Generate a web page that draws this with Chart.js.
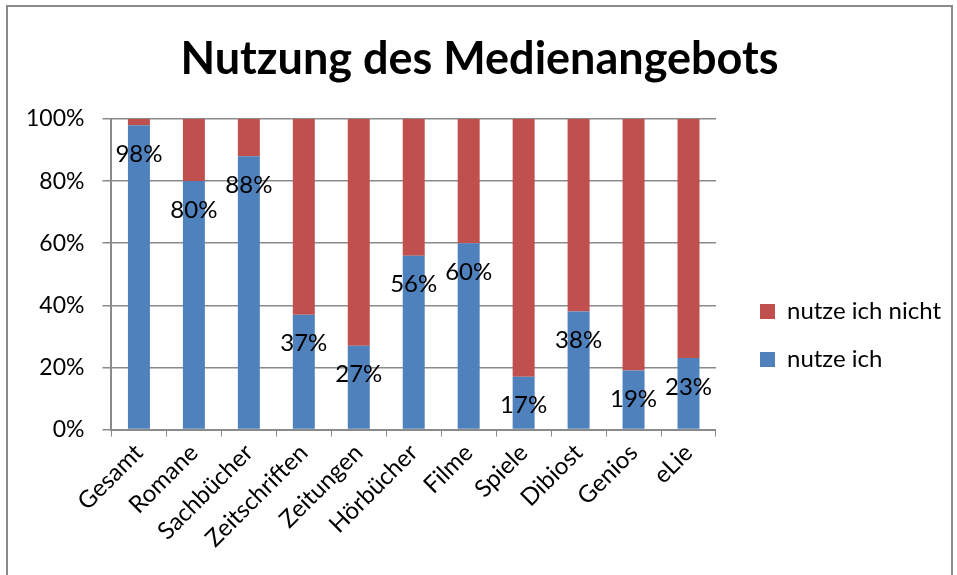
<!DOCTYPE html>
<html>
<head>
<meta charset="utf-8">
<script src="https://cdn.jsdelivr.net/npm/chart.js@4"></script>
<style>
  html, body { margin: 0; padding: 0; background: #fff; overflow: hidden; }
  #frame { position: absolute; left: 6px; top: 5px; width: 943px; height: 620px; border: 2px solid #8a8a8a; }
  #wrap { position: absolute; left: 0; top: 0; width: 957px; height: 575px; }
</style>
</head>
<body>
<div id="frame"></div>
<div id="wrap"><canvas id="myChart" width="957" height="575"></canvas></div>
<script>
'use strict';

let categories = ['Gesamt', 'Romane', 'Sachbücher', 'Zeitschriften', 'Zeitungen', 'Hörbücher', 'Filme', 'Spiele', 'Dibiost', 'Genios', 'eLie'];
let nutzeIch = [98, 80, 88, 37, 27, 56, 60, 17, 38, 19, 23];
let nutzeIchNicht = [2, 20, 12, 63, 73, 44, 40, 83, 62, 81, 77];
let yTicks = [0, 20, 40, 60, 80, 100];

let fontName = 'Lato';

// percent labels under the top of the blue bars
let barLabels = {
  id: 'barLabels',
  afterDatasetsDraw(chart) {
    let ctx = chart.ctx;
    let meta = chart.getDatasetMeta(0);
    ctx.save();
    ctx.font = '24px ' + fontName;
    ctx.fillStyle = '#000';
    ctx.textAlign = 'center';
    ctx.textBaseline = 'middle';
    meta.data.forEach(function(bar, i) {
      ctx.fillText(nutzeIch[i] + '%', bar.x, bar.y + 29);
    });
    ctx.restore();
  }
};

let ctx = document.getElementById('myChart').getContext('2d');
let myChart = new Chart(ctx, {
  type: 'bar',
  data: {
    labels: categories,
    datasets: [{
      label: 'nutze ich',
      data: nutzeIch,
      backgroundColor: '#4F81BD',
      barPercentage: 0.4,
      categoryPercentage: 1
    }, {
      label: 'nutze ich nicht',
      data: nutzeIchNicht,
      backgroundColor: '#C0504D',
      barPercentage: 0.4,
      categoryPercentage: 1
    }]
  },
  options: {
    responsive: false,
    animation: false,
    layout: {
      padding: { left: 8, right: 6, top: 0, bottom: 20 }
    },
    plugins: {
      title: {
        display: true,
        text: 'Nutzung des Medienangebots',
        color: '#000',
        font: { family: fontName, size: 45, weight: 'bold' },
        padding: { top: 32, bottom: 33 }
      },
      legend: {
        position: 'right',
        reverse: true,
        maxWidth: 300,
        title: {
          display: true,
          text: ' ',
          font: { size: 10 },
          padding: { top: 104, bottom: 0 }
        },
        labels: {
          color: '#000',
          font: { family: fontName, size: 24 },
          boxWidth: 15,
          boxHeight: 15,
          padding: 24
        }
      },
      tooltip: { enabled: false }
    },
    scales: {
      x: {
        stacked: true,
        grid: {
          display: true,
          drawOnChartArea: false,
          color: '#8a8a8a',
          tickLength: 7
        },
        border: { color: '#8a8a8a', width: 2 },
        ticks: {
          color: '#000',
          font: { family: fontName, size: 24 },
          maxRotation: 45,
          minRotation: 45,
          padding: 2
        }
      },
      y: {
        stacked: true,
        min: 0,
        max: 100,
        afterBuildTicks: function(axis) {
          axis.ticks = yTicks.map(function(v) { return { value: v }; });
        },
        grid: {
          color: '#8a8a8a',
          lineWidth: 1.5,
          tickLength: 9
        },
        border: { color: '#8a8a8a', width: 2 },
        ticks: {
          color: '#000',
          font: { family: fontName, size: 23 },
          padding: 18,
          callback: function(value) { return value + '%'; }
        }
      },
      // empty spacer between plot and legend
      spacer: {
        type: 'linear',
        position: 'right',
        grid: { display: false },
        border: { display: false },
        ticks: { display: false },
        afterFit: function(scale) { scale.width = 20; }
      }
    }
  },
  plugins: [barLabels]
});
</script>
</body>
</html>
